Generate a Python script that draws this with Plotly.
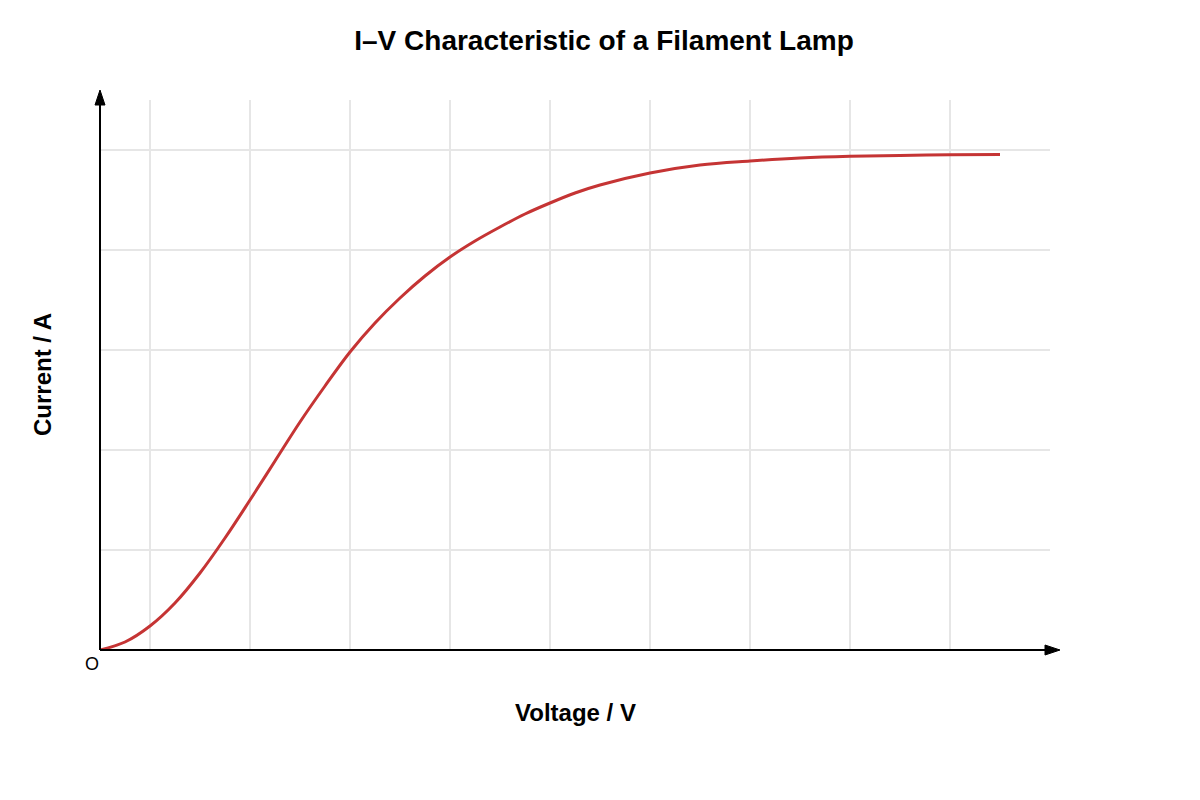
import plotly.graph_objects as go

# I-V readings for the filament lamp
voltage = [0, 0.25, 0.5, 0.75, 1.0, 1.25, 1.5, 1.75, 2.0, 2.25, 2.5, 2.75,
           3.0, 3.25, 3.5, 3.75, 4.0, 4.25, 4.5, 4.75, 5.0, 5.5, 6.0, 6.5,
           7.0, 7.5, 8.0, 8.5, 9.0]
current = [0, 0.08, 0.24, 0.47, 0.77, 1.12, 1.50, 1.89, 2.28, 2.64, 2.98, 3.27,
           3.52, 3.74, 3.93, 4.09, 4.23, 4.36, 4.47, 4.57, 4.65, 4.77, 4.85, 4.89,
           4.92, 4.937, 4.946, 4.952, 4.955]

x_range = [0, 9.5]
y_range = [0, 5.5]

# the page adds an 8px body margin, so the figure is shrunk by that much
OFF = 8
W, H = 1200 - OFF, 800 - OFF
L, R, T, B = 100 - OFF, 150, 100 - OFF, 150
PW, PH = W - L - R, H - T - B


def px(x):
    # page pixel -> paper x
    return (x - OFF - L) / PW


def py(y):
    # page pixel -> paper y
    return (H - B - (y - OFF)) / PH


fig = go.Figure()

fig.add_trace(go.Scatter(
    x=voltage,
    y=current,
    mode="lines",
    line=dict(color="#c53434", width=3, shape="spline", smoothing=1),
    hoverinfo="x+y",
    showlegend=False,
))

# axis lines with arrowheads (paper coords so they can run past the grid)
shapes = [
    dict(type="line", xref="paper", yref="paper", x0=0, y0=0, x1=px(1050), y1=0,
         line=dict(color="black", width=2)),
    dict(type="path", xref="paper", yref="paper",
         path=f"M {px(1045)},{py(645)} L {px(1060)},{py(650)} L {px(1045)},{py(655)} Z",
         fillcolor="black", line=dict(color="black", width=1)),
    dict(type="line", xref="paper", yref="paper", x0=0, y0=0, x1=0, y1=py(100),
         line=dict(color="black", width=2)),
    dict(type="path", xref="paper", yref="paper",
         path=f"M {px(95)},{py(105)} L {px(100)},{py(90)} L {px(105)},{py(105)} Z",
         fillcolor="black", line=dict(color="black", width=1)),
]

annotations = [
    dict(text="<b>Voltage / V</b>", xref="paper", yref="paper",
         x=0.5, y=py(712), xanchor="center", yanchor="middle",
         showarrow=False, font=dict(size=24, color="black")),
    dict(text="<b>Current / A</b>", xref="paper", yref="paper",
         x=px(42), y=0.5, xanchor="center", yanchor="middle", textangle=-90,
         showarrow=False, font=dict(size=24, color="black")),
    dict(text="O", xref="paper", yref="paper", x=px(92), y=py(664),
         xanchor="center", yanchor="middle",
         showarrow=False, font=dict(size=18, color="black")),
]

fig.update_layout(
    width=W,
    height=H,
    margin=dict(l=L, r=R, t=T, b=B),
    paper_bgcolor="white",
    plot_bgcolor="white",
    font=dict(family="Liberation Sans, Arial, sans-serif", color="black"),
    title=dict(text="<b>I–V Characteristic of a Filament Lamp</b>",
               x=0.5, xanchor="center", y=1 - (40 - OFF) / H, yanchor="middle",
               font=dict(size=28, color="black")),
    shapes=shapes,
    annotations=annotations,
)

fig.update_xaxes(range=x_range, tick0=0.5, dtick=1, showticklabels=False,
                 ticks="", showgrid=True, gridcolor="#e6e6e6", gridwidth=1.5,
                 zeroline=False, showline=False)
fig.update_yaxes(range=y_range, tick0=0, dtick=1, showticklabels=False,
                 ticks="", showgrid=True, gridcolor="#e6e6e6", gridwidth=1.5,
                 zeroline=False, showline=False)

fig.write_html("out.html")
